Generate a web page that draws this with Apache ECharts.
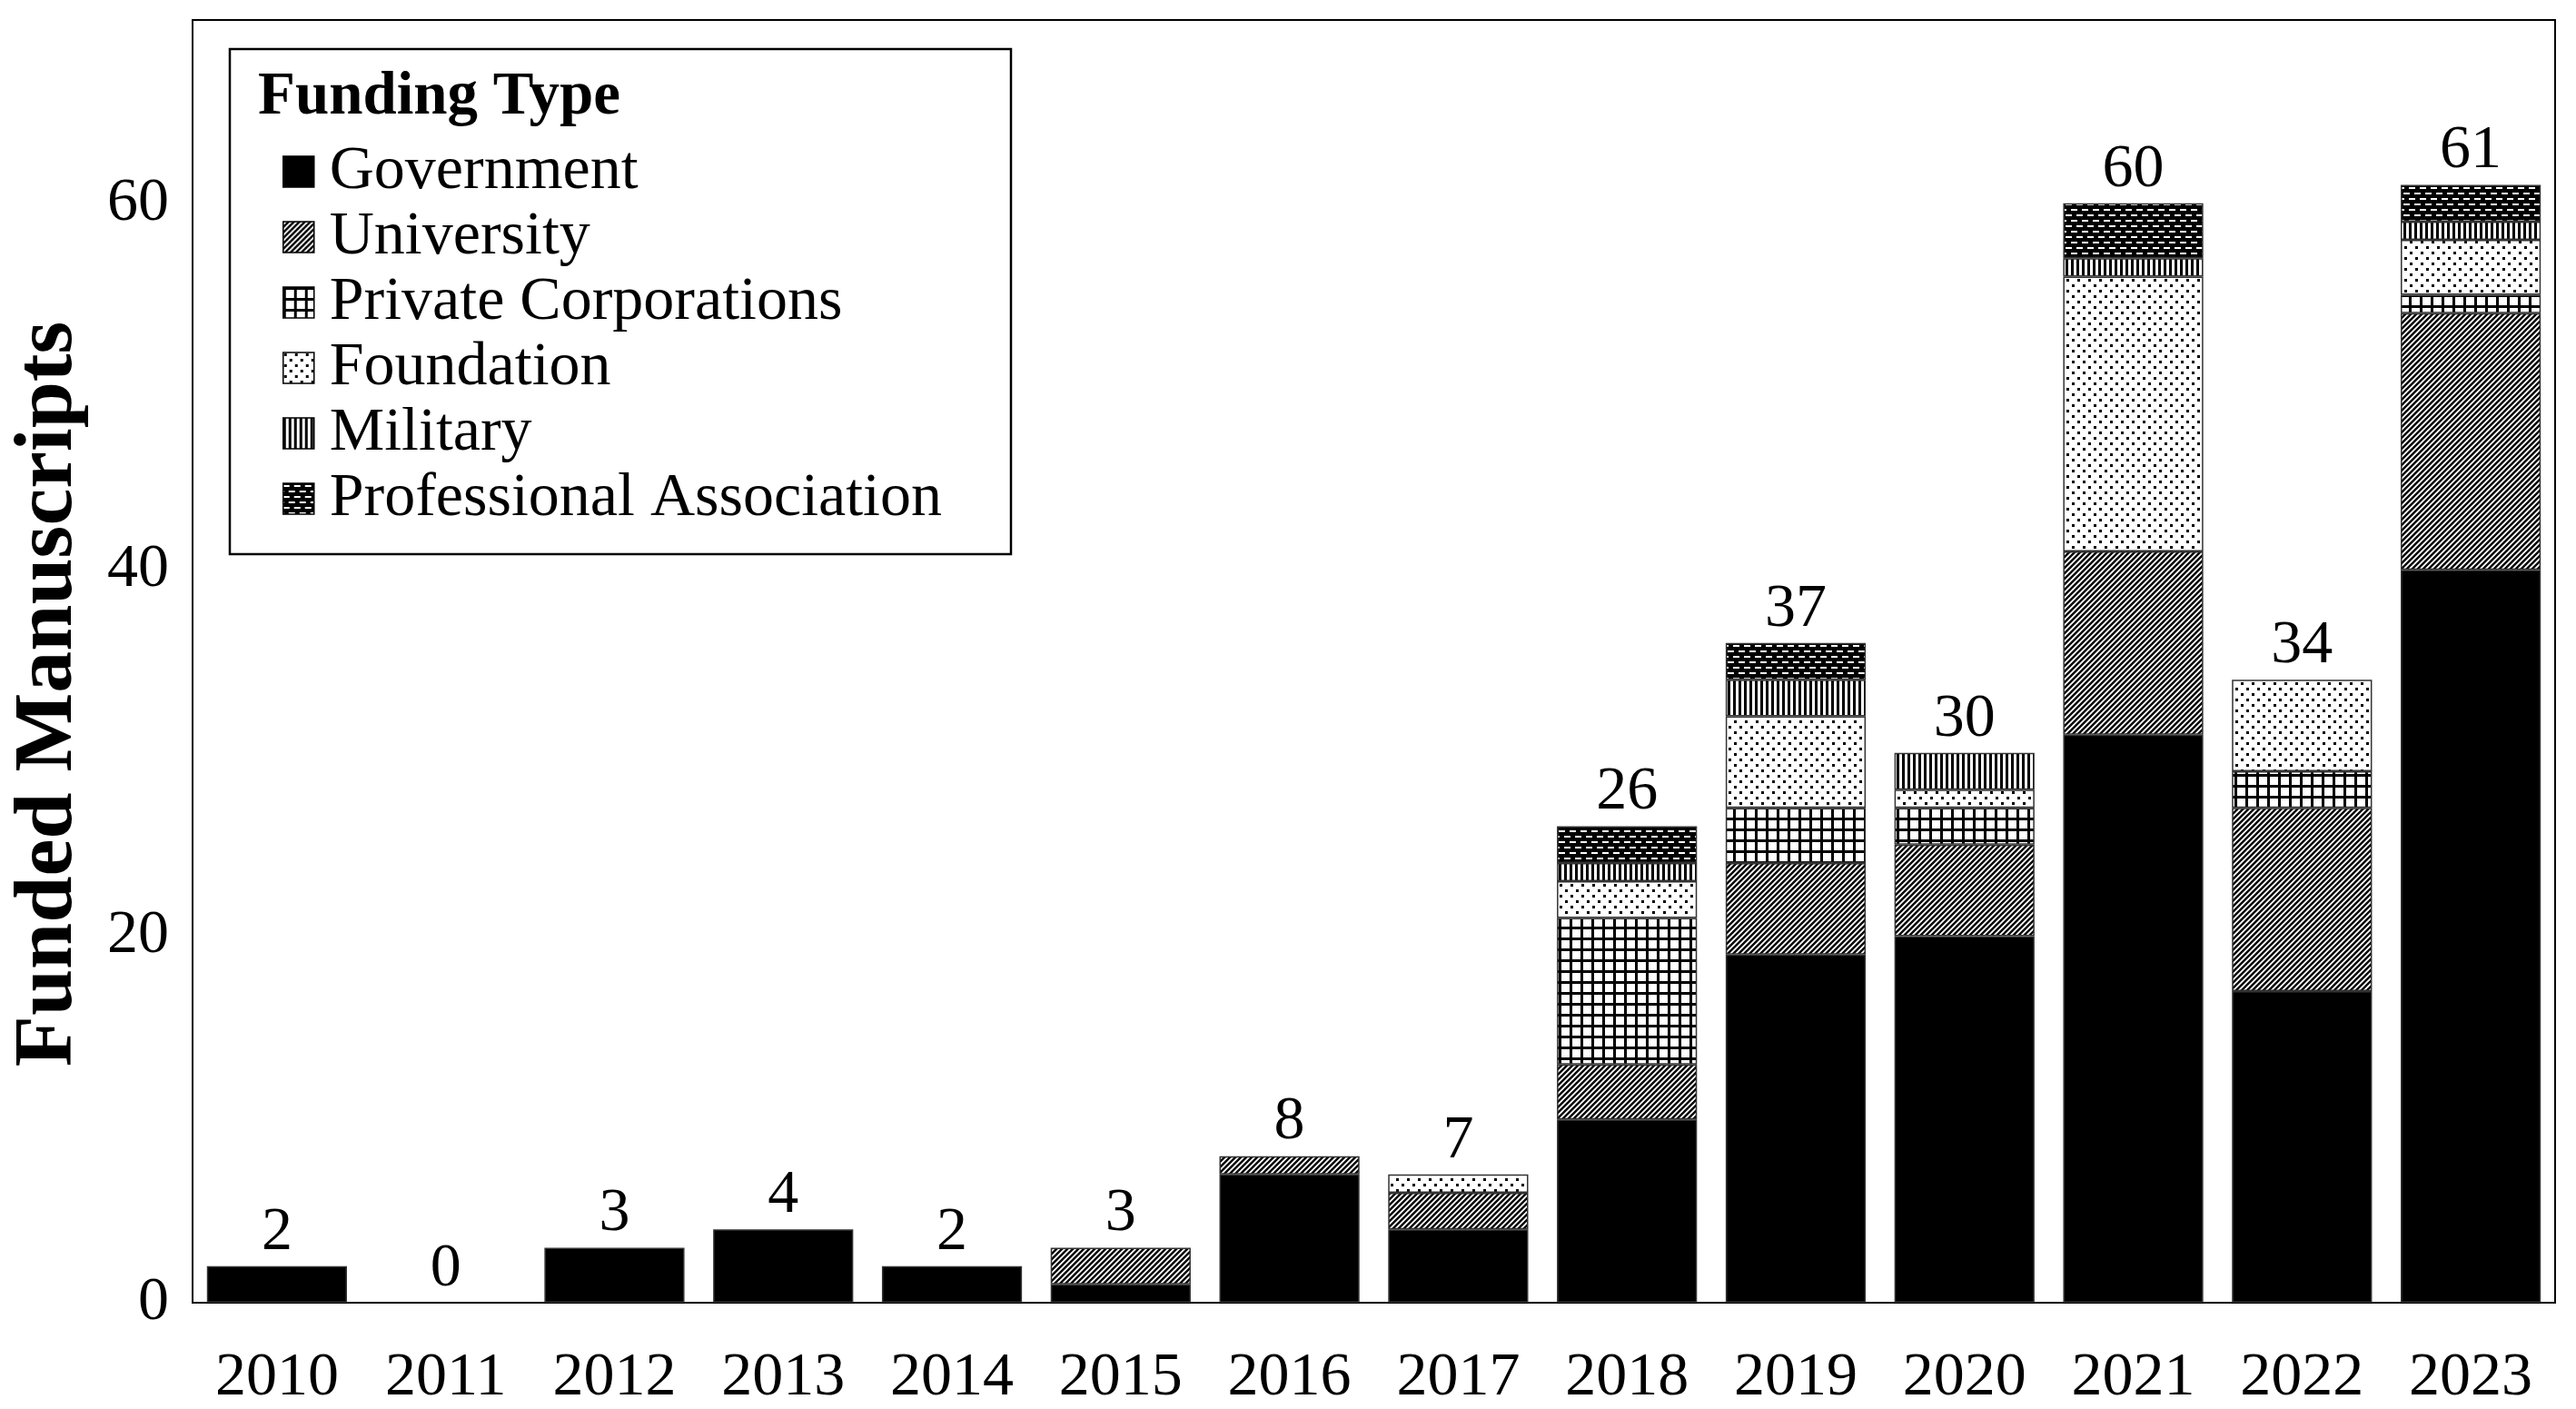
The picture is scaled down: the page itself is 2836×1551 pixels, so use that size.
<!DOCTYPE html>
<html>
<head>
<meta charset="utf-8">
<script src="https://cdn.jsdelivr.net/npm/echarts@6/dist/echarts.min.js"></script>
<style>
html,body{margin:0;padding:0;background:#fff;}
#chart{width:2836px;height:1551px;}
</style>
</head>
<body>
<div id="chart"></div>
<script>
const years = ['2010','2011','2012','2013','2014','2015','2016','2017','2018','2019','2020','2021','2022','2023'];
const government   = [2,0,3,4,2,1,7,4,10,19,20,31,17,40];
const university   = [0,0,0,0,0,2,1,2,3,5,5,10,10,14];
const privateCorp  = [0,0,0,0,0,0,0,0,8,3,2,0,2,1];
const foundation   = [0,0,0,0,0,0,0,1,2,5,1,15,5,3];
const military     = [0,0,0,0,0,0,0,0,1,2,2,1,0,1];
const professional = [0,0,0,0,0,0,0,0,2,2,0,3,0,2];
const totals       = [2,0,3,4,2,3,8,7,26,37,30,60,34,61];
const seriesNames  = ['Government','University','Private Corporations','Foundation','Military','Professional Association'];
const yTicks = [0,20,40,60];

function makePattern(w, h, draw) {
  const c = document.createElement('canvas');
  c.width = w; c.height = h;
  const ctx = c.getContext('2d');
  draw(ctx, w, h);
  return { image: c, repeat: 'repeat' };
}
const fills = [
  '#000000',
  makePattern(6, 6, (ctx, w, h) => {
    ctx.fillStyle = '#fff'; ctx.fillRect(0, 0, w, h);
    ctx.strokeStyle = '#000'; ctx.lineWidth = 2.4;
    ctx.beginPath();
    ctx.moveTo(-w, 2*h); ctx.lineTo(2*w, -h);
    ctx.moveTo(-w, h); ctx.lineTo(w, -h);
    ctx.moveTo(0, 2*h); ctx.lineTo(2*w, 0);
    ctx.stroke();
  }),
  makePattern(12, 12, (ctx, w, h) => {
    ctx.fillStyle = '#000'; ctx.fillRect(0, 0, w, h);
    ctx.fillStyle = '#fff'; ctx.fillRect(3, 3, 9, 9);
  }),
  makePattern(12, 12, (ctx, w, h) => {
    ctx.fillStyle = '#fff'; ctx.fillRect(0, 0, w, h);
    ctx.fillStyle = '#000'; ctx.fillRect(1, 1, 3, 3); ctx.fillRect(7, 7, 3, 3);
  }),
  makePattern(6, 6, (ctx, w, h) => {
    ctx.fillStyle = '#fff'; ctx.fillRect(0, 0, w, h);
    ctx.fillStyle = '#000'; ctx.fillRect(0, 0, 3, h);
  }),
  makePattern(12, 12, (ctx, w, h) => {
    ctx.fillStyle = '#000'; ctx.fillRect(0, 0, w, h);
    ctx.fillStyle = '#fff'; ctx.fillRect(0, 2, 7, 2); ctx.fillRect(6, 8, 6, 2); ctx.fillRect(0, 8, 1, 2);
  })
];
const dataSets = [government, university, privateCorp, foundation, military, professional];
const FONT = '"Liberation Serif", "Times New Roman", serif';

const series = dataSets.map((arr, i) => ({
  name: seriesNames[i],
  type: 'bar',
  stack: 'total',
  barWidth: '83%',
  data: arr.map(v => v === 0 ? { value: 0, itemStyle: { borderWidth: 0, opacity: 0 } } : v),
  itemStyle: { color: fills[i], borderColor: '#333', borderWidth: 1.5 },
  emphasis: { disabled: true }
}));
series.push({
  name: 'Total',
  type: 'bar',
  stack: 'total',
  barWidth: '83%',
  data: years.map(() => 0),
  itemStyle: { color: 'rgba(0,0,0,0)', borderWidth: 0 },
  label: {
    show: true, position: 'top', distance: 3,
    formatter: p => String(totals[p.dataIndex]),
    fontFamily: FONT, fontSize: 68, color: '#000'
  },
  emphasis: { disabled: true }
});

const chart = echarts.init(document.getElementById('chart'));
chart.setOption({
  animation: false,
  backgroundColor: '#fff',
  grid: { left: 212, right: 23, top: 22, bottom: 117, show: true, borderColor: '#000', borderWidth: 2, containLabel: false, outerBoundsMode: 'none' },
  xAxis: {
    type: 'category',
    data: years,
    axisLine: { lineStyle: { color: '#000', width: 2 } },
    axisTick: { show: false },
    axisLabel: { fontFamily: FONT, fontSize: 68, color: '#000', margin: 49 }
  },
  yAxis: {
    type: 'value',
    min: 0, max: 70, interval: 20,
    name: 'Funded Manuscripts',
    nameLocation: 'middle',
    nameGap: 112,
    nameTextStyle: { fontFamily: FONT, fontSize: 92, fontWeight: 'bold', color: '#000', padding: [0, 72, 0, 0] },
    axisLine: { show: true, lineStyle: { color: '#000', width: 2 } },
    axisTick: { show: false },
    splitLine: { show: false },
    axisLabel: {
      fontFamily: FONT, fontSize: 68, color: '#000', margin: 26, showMaxLabel: false,
      formatter: v => yTicks.indexOf(v) >= 0 ? String(v) : ''
    }
  },
  legend: {
    data: seriesNames,
    orient: 'vertical',
    left: 311, top: 153,
    padding: 0,
    itemGap: 0,
    itemWidth: 34, itemHeight: 34,
    icon: 'rect',
    selectedMode: false,
    itemStyle: { borderWidth: 1.5, borderColor: '#000', opacity: 1 },
    textStyle: { fontFamily: FONT, fontSize: 68, color: '#000', lineHeight: 72, padding: [0, 0, 0, 12] }
  },
  graphic: [
    { type: 'rect', shape: { x: 253, y: 54, width: 860, height: 556 }, style: { fill: 'rgba(0,0,0,0)', stroke: '#000', lineWidth: 2.5 }, z: 10 },
    { type: 'text', x: 284, y: 108, style: { text: 'Funding Type', font: 'bold 67px ' + FONT, fill: '#000', textVerticalAlign: 'middle' }, z: 10 }
  ],
  series: series
});
</script>
</body>
</html>
